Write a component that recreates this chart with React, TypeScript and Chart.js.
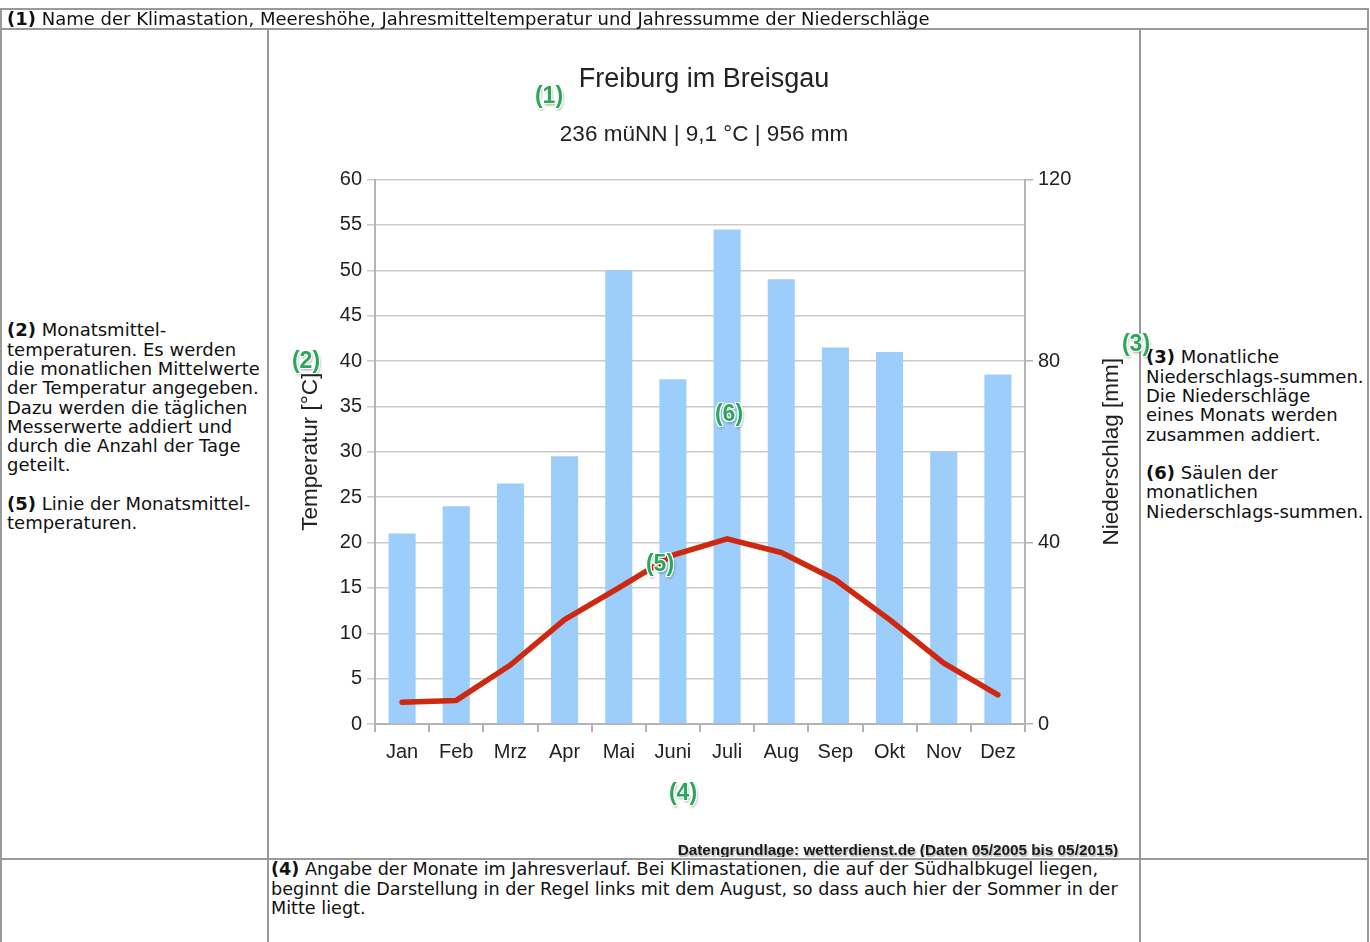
import React, { useEffect, useRef } from 'react';
import { Chart, registerables } from 'chart.js';

Chart.register(...registerables);

// ---- data -------------------------------------------------------------
const months = ['Jan', 'Feb', 'Mrz', 'Apr', 'Mai', 'Juni', 'Juli', 'Aug', 'Sep', 'Okt', 'Nov', 'Dez'];
const precipitationMm = [42, 48, 53, 59, 100, 76, 109, 98, 83, 82, 60, 77];
const temperatureC = [2.4, 2.6, 6.5, 11.5, 15.0, 18.6, 20.4, 18.9, 15.9, 11.5, 6.7, 3.2];
const temperatureAxis = [0, 60, 5]; // min, max, step
const precipitationAxis = [0, 120, 40]; // min, max, step

const stationTitle = 'Freiburg im Breisgau';
const stationSubtitle = '236 müNN | 9,1 °C | 956 mm';
const sourceNote = 'Datengrundlage: wetterdienst.de (Daten 05/2005 bis 05/2015)';
const leftAxisTitle = 'Temperatur [°C]';
const rightAxisTitle = 'Niederschlag [mm]';

const row1Text = ['(1)', ' Name der Klimastation, Meereshöhe, Jahresmitteltemperatur und Jahressumme der Niederschläge'];
const leftCellLines: [string, string][] = [
  ['(2)', ' Monatsmittel-'],
  ['', 'temperaturen. Es werden'],
  ['', 'die monatlichen Mittelwerte'],
  ['', 'der Temperatur angegeben.'],
  ['', 'Dazu werden die täglichen'],
  ['', 'Messerwerte addiert und'],
  ['', 'durch die Anzahl der Tage'],
  ['', 'geteilt.'],
  ['', ''],
  ['(5)', ' Linie der Monatsmittel-'],
  ['', 'temperaturen.'],
];
const rightCellLines: [string, string][] = [
  ['(3)', ' Monatliche'],
  ['', 'Niederschlags-summen.'],
  ['', 'Die Niederschläge'],
  ['', 'eines Monats werden'],
  ['', 'zusammen addiert.'],
  ['', ''],
  ['(6)', ' Säulen der'],
  ['', 'monatlichen'],
  ['', 'Niederschlags-summen.'],
];
const bottomCellLines: [string, string][] = [
  ['(4)', ' Angabe der Monate im Jahresverlauf. Bei Klimastationen, die auf der Südhalbkugel liegen,'],
  ['', 'beginnt die Darstellung in der Regel links mit dem August, so dass auch hier der Sommer in der'],
  ['', 'Mitte liegt.'],
];
const markerLabels = ['(1)', '(2)', '(3)', '(4)', '(5)', '(6)'];
const markerPositions: [number, number][] = [
  [549, 95], [306, 360], [1136, 343], [683, 792], [660, 563], [729, 413],
];

// ---- styles -----------------------------------------------------------
const CHART_FONT = '"Liberation Sans", Arial, Helvetica, sans-serif';
const PAGE_FONT = '"DejaVu Sans", Verdana, sans-serif';
const TEXT_COLOR = '#222';
const AXIS_COLOR = '#b4b4b4';
const GRID_COLOR = '#cbcbcb';
const BORDER = '#9a9a9a';

const CANVAS_LEFT = 269;
const CANVAS_TOP = 29;
const CANVAS_W = 870;
const CANVAS_H = 828;

const extraTextPlugin = {
  id: 'extraText',
  afterDraw(chart: any) {
    const { ctx, chartArea } = chart;
    ctx.save();
    ctx.translate(843, (chartArea.top + chartArea.bottom) / 2);
    ctx.rotate(-Math.PI / 2);
    ctx.font = `22.5px ${CHART_FONT}`;
    ctx.fillStyle = TEXT_COLOR;
    ctx.textAlign = 'center';
    ctx.textBaseline = 'middle';
    ctx.fillText(rightAxisTitle, 0, 0);
    ctx.restore();

    ctx.save();
    ctx.font = `bold 15.3px ${CHART_FONT}`;
    ctx.textAlign = 'right';
    ctx.textBaseline = 'middle';
    ctx.shadowColor = 'rgba(0,0,0,0.35)';
    ctx.shadowOffsetX = 1;
    ctx.shadowOffsetY = 2;
    ctx.shadowBlur = 2;
    ctx.fillStyle = '#1a1a1a';
    ctx.fillText(sourceNote, 849, 822);
    ctx.restore();
  },
};

function ClimateChart() {
  const ref = useRef<HTMLCanvasElement | null>(null);
  useEffect(() => {
    if (!ref.current) return;
    const chart = new Chart(ref.current, {
      type: 'bar',
      data: {
        labels: months,
        datasets: [
          {
            type: 'line',
            label: 'Temperatur',
            data: temperatureC,
            yAxisID: 'y',
            borderColor: '#cf2810',
            backgroundColor: '#cf2810',
            borderWidth: 5.5,
            pointRadius: 0,
            tension: 0,
            borderCapStyle: 'round',
            borderJoinStyle: 'round',
            order: 0,
          } as any,
          {
            type: 'bar',
            label: 'Niederschlag',
            data: precipitationMm,
            yAxisID: 'y1',
            backgroundColor: '#9dcdfb',
            borderWidth: 0,
            barPercentage: 0.5,
            categoryPercentage: 1.0,
            order: 1,
          },
        ],
      },
      options: {
        responsive: false,
        animation: false,
        devicePixelRatio: 1,
        layout: { padding: { left: 0, right: 0, top: 0, bottom: 93 } },
        plugins: {
          legend: { display: false },
          tooltip: { enabled: false },
          title: {
            display: true,
            text: stationTitle,
            color: TEXT_COLOR,
            font: { family: CHART_FONT, size: 27, weight: 'normal', lineHeight: 1.2 },
            padding: { top: 34.8, bottom: 13 },
          },
          subtitle: {
            display: true,
            text: stationSubtitle,
            color: TEXT_COLOR,
            font: { family: CHART_FONT, size: 22.5, weight: 'normal', lineHeight: 1.2 },
            padding: { top: 12.5, bottom: 30.8 },
          },
        },
        scales: {
          x: {
            offset: true,
            grid: {
              offset: true,
              drawOnChartArea: false,
              drawTicks: true,
              tickLength: 8,
              color: AXIS_COLOR,
              lineWidth: 2,
            },
            border: { color: AXIS_COLOR, width: 2 },
            ticks: { color: TEXT_COLOR, font: { family: CHART_FONT, size: 20 }, padding: 8 },
            afterFit: (s: any) => { s.height = 40; },
          },
          y: {
            position: 'left',
            min: temperatureAxis[0],
            max: temperatureAxis[1],
            ticks: {
              stepSize: temperatureAxis[2],
              color: TEXT_COLOR,
              font: { family: CHART_FONT, size: 20 },
              padding: 5,
            },
            grid: { color: GRID_COLOR, lineWidth: 1.5, tickLength: 8 },
            border: { color: AXIS_COLOR, width: 2 },
            title: {
              display: true,
              text: leftAxisTitle,
              color: TEXT_COLOR,
              font: { family: CHART_FONT, size: 22.5, lineHeight: 1.2 },
              padding: { top: 28.5, bottom: 0 },
            },
            afterFit: (s: any) => { s.width = 106; },
          },
          y1: {
            position: 'right',
            min: precipitationAxis[0],
            max: precipitationAxis[1],
            ticks: {
              stepSize: precipitationAxis[2],
              color: TEXT_COLOR,
              font: { family: CHART_FONT, size: 20 },
              padding: 5,
            },
            grid: { drawOnChartArea: false, color: AXIS_COLOR, lineWidth: 1.5, tickLength: 8 },
            border: { color: AXIS_COLOR, width: 2 },
            afterFit: (s: any) => { s.width = 114; },
          },
        },
      } as any,
      plugins: [extraTextPlugin],
    });
    return () => chart.destroy();
  }, []);
  return (
    <canvas
      ref={ref}
      width={CANVAS_W}
      height={CANVAS_H}
      style={{ position: 'absolute', left: CANVAS_LEFT, top: CANVAS_TOP, width: CANVAS_W, height: CANVAS_H }}
    />
  );
}

function Lines({ lines, left, top, lh, size = 18 }: { lines: [string, string][]; left: number; top: number; lh: number; size?: number }) {
  return (
    <div style={{ position: 'absolute', left, top, fontFamily: PAGE_FONT, fontSize: size, lineHeight: `${lh}px`, color: '#111', whiteSpace: 'nowrap' }}>
      {lines.map((l, i) => (
        <div key={i} style={{ height: lh }}>
          {l[0] ? <b>{l[0]}</b> : null}
          {l[1]}
        </div>
      ))}
    </div>
  );
}

function HLine({ y }: { y: number }) {
  return <div style={{ position: 'absolute', left: 0, top: y, width: 1369, height: 2, background: BORDER }} />;
}
function VLine({ x, y0 }: { x: number; y0: number }) {
  return <div style={{ position: 'absolute', left: x, top: y0, width: 2, height: 942 - y0, background: BORDER }} />;
}

export default function App() {
  return (
    <div style={{ position: 'absolute', left: 0, top: 0, width: 1370, height: 942, overflow: 'hidden', background: '#fff' }}>
      <ClimateChart />
      <HLine y={8} />
      <HLine y={28} />
      <HLine y={858} />
      <VLine x={0} y0={8} />
      <VLine x={1367} y0={8} />
      <VLine x={267} y0={28} />
      <VLine x={1139} y0={28} />
      <Lines lines={[[row1Text[0], row1Text[1]]]} left={7} top={8.5} lh={19.3} />
      <Lines lines={leftCellLines} left={7} top={320.4} lh={19.3} />
      <Lines lines={rightCellLines} left={1146} top={347.4} lh={19.3} />
      <Lines lines={bottomCellLines} left={271} top={860.4} lh={19.3} size={17.6} />
      {markerLabels.map((t, i) => (
        <span
          key={t}
          style={{
            position: 'absolute',
            left: markerPositions[i][0],
            top: markerPositions[i][1],
            transform: 'translate(-50%, -50%)',
            fontFamily: CHART_FONT,
            fontWeight: 'bold',
            fontSize: 23,
            lineHeight: 1,
            color: '#2ca65a',
            whiteSpace: 'nowrap',
            textShadow:
              '1px 0 0 #fff, -1px 0 0 #fff, 0 1px 0 #fff, 0 -1px 0 #fff, 1px 1px 0 #fff, -1px -1px 0 #fff, 1px -1px 0 #fff, -1px 1px 0 #fff, 1px 2px 3px rgba(0,0,0,0.4)',
          }}
        >
          {t}
        </span>
      ))}
    </div>
  );
}
